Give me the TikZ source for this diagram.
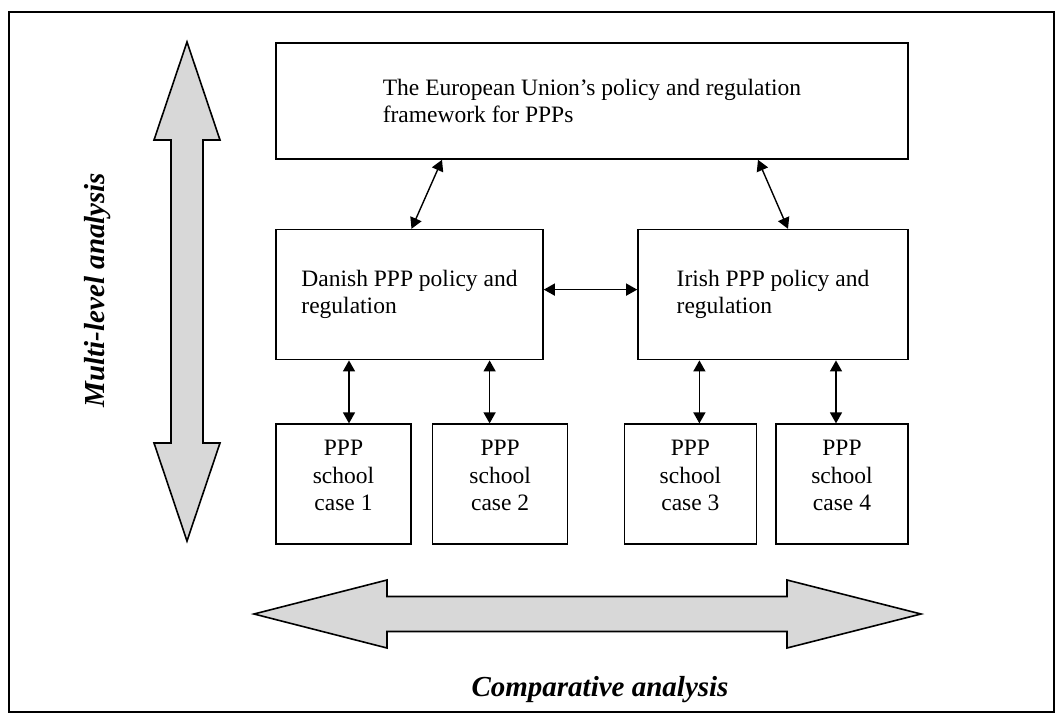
\documentclass[tikz,border=0pt]{standalone}
\usepackage{fontspec}
\setmainfont{Liberation Serif}
\usetikzlibrary{arrows.meta,positioning}
\definecolor{arrowgray}{RGB}{216,216,216}

\begin{document}
\begin{tikzpicture}[x=1pt,y=-1pt,line width=1.6pt,
                    font=\fontsize{23.5}{27.5}\selectfont,
                    link/.style={{Triangle[length=11pt,width=12pt]}-{Triangle[length=11pt,width=12pt]},line width=1.4pt},
                    axis/.style={font=\fontsize{29}{33}\selectfont\bfseries\itshape}]
	\tikzstyle{box}=[draw,inner sep=0pt,align=left]
	\tikzstyle{casebox}=[draw,minimum height=120pt]
	\tikzstyle{bigarrow}=[draw,fill=arrowgray,line join=miter]

  \useasboundingbox (0,0) rectangle (1063,720);
  \draw (9,12) rectangle (1054,712);

  \node[box,minimum width=632pt,minimum height=116pt] (eu) at (592,101)
        {The European Union’s policy and regulation\\framework for PPPs};
  \node[box,minimum width=267pt,minimum height=130pt] (dk) [below right=69pt and 0pt of eu.south west]
        {Danish PPP policy and\\regulation};
  \node[box,minimum width=270pt,minimum height=130pt] (ie) [below left=69pt and 0pt of eu.south east]
        {Irish PPP policy and\\regulation};

  % school cases
  \node[casebox,minimum width=135pt] (c1) [below right=63pt and 0pt of dk.south west,
        label={[anchor=north,yshift=-16pt,inner sep=0pt,align=center]north:PPP\\school\\case 1}] {};
  \node[casebox,minimum width=135pt] (c2) [right=20pt of c1,
        label={[anchor=north,yshift=-16pt,inner sep=0pt,align=center]north:PPP\\school\\case 2}] {};
  \node[casebox,minimum width=132pt] (c4) [below left=63pt and 0pt of ie.south east,
        label={[anchor=north,yshift=-16pt,inner sep=0pt,align=center]north:PPP\\school\\case 4}] {};
  \node[casebox,minimum width=132pt] (c3) [left=18pt of c4,
        label={[anchor=north,yshift=-16pt,inner sep=0pt,align=center]north:PPP\\school\\case 3}] {};

  \draw[link] ([xshift=-150pt]eu.south) -- ([xshift=2pt]dk.north);
  \draw[link] ([xshift=166pt]eu.south) -- ([xshift=15pt]ie.north);
  \draw[link] ([yshift=5pt]dk.east) -- ([yshift=5pt]ie.west);
  \draw[link] ([xshift=5.5pt]c1.north |- dk.south) -- ([xshift=5.5pt]c1.north);
  \draw[link] ([xshift=-10.5pt]c2.north |- dk.south) -- ([xshift=-10.5pt]c2.north);
  \draw[link] ([xshift=9pt]c3.north |- ie.south) -- ([xshift=9pt]c3.north);
  \draw[link] ([xshift=-6pt]c4.north |- ie.south) -- ([xshift=-6pt]c4.north);

  % the two big grey arrows
  \filldraw[bigarrow] (187,42) -- (220,140) -- (203,140) -- (203,443) -- (220,443) -- (187,541)
        -- (154,443) -- (171,443) -- (171,140) -- (154,140) -- cycle;
  \filldraw[bigarrow] (254,614) -- (387,580) -- (387,596.5) -- (787,596.5) -- (787,580) -- (921,614)
        -- (787,648) -- (787,631.5) -- (387,631.5) -- (387,648) -- cycle;

  \node[axis,rotate=90] (ml) at (98,290) {Multi-level analysis};
  \node[axis] (ca) at (600,690) {Comparative analysis};
\end{tikzpicture}
\end{document}
